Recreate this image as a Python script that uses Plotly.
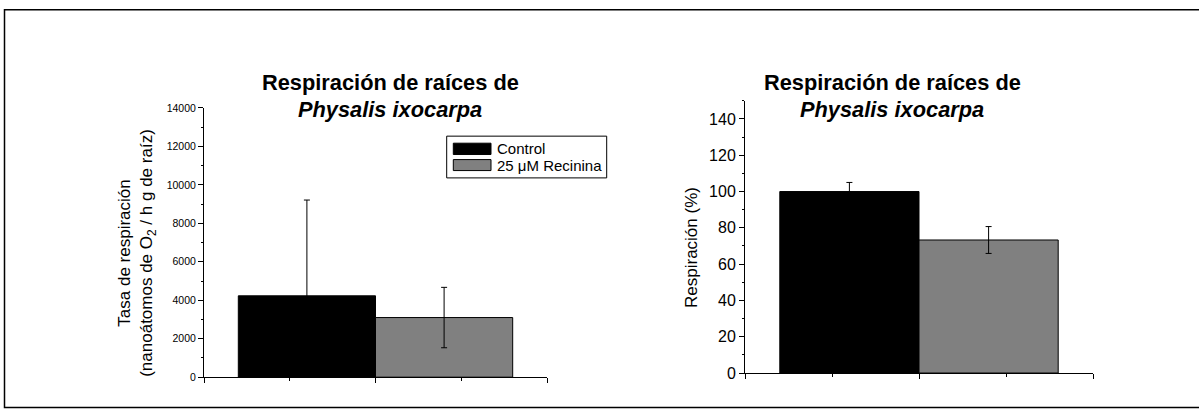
import plotly.graph_objects as go

# ---- data ----
series = ["Control", "25 \u03bcM Recinina"]
group_pos = [0]  # single group on the x axis
rate_values = [4230, 3100]          # nanoátomos O2 / h g raíz
rate_errors = [4980, 1570]
pct_values = [100, 73.3]            # %
pct_errors = [5, 7.4]
colors = ["#000000", "#808080"]
rate_ticks = list(range(0, 14001, 2000))
pct_ticks = list(range(0, 141, 20))

W, H = 1199, 418
FONT = "Liberation Sans, Arial, sans-serif"


def fx(px):
    return px / W


def fy(py):
    return 1 - py / H


fig = go.Figure()

for i, name in enumerate(series):
    fig.add_trace(go.Bar(
        x=group_pos, y=[rate_values[i]], name=name,
        marker=dict(color=colors[i], line=dict(color="black", width=1)),
        error_y=dict(type="data", array=[rate_errors[i]], color="black", thickness=1, width=3),
        xaxis="x", yaxis="y", offsetgroup=str(i), showlegend=False,
    ))
    fig.add_trace(go.Bar(
        x=group_pos, y=[pct_values[i]], name=name,
        marker=dict(color=colors[i], line=dict(color="black", width=1)),
        error_y=dict(type="data", array=[pct_errors[i]], color="black", thickness=1, width=3),
        xaxis="x2", yaxis="y2", offsetgroup=str(i), showlegend=False,
    ))

xcommon = dict(range=[-0.5, 0.5], showline=True, linecolor="black", linewidth=1,
               ticks="outside", ticklen=5, tickcolor="black", tickwidth=1,
               tickvals=[-0.5, 0, 0.5], showticklabels=False, showgrid=False, zeroline=False,
               minor=dict(tickvals=[-0.25, 0.25], ticks="outside", ticklen=3,
                          tickcolor="black", showgrid=False))

fig.update_layout(
    width=W, height=H,
    margin=dict(l=0, r=0, t=0, b=0),
    paper_bgcolor="white", plot_bgcolor="white",
    barmode="group", bargap=0.2, bargroupgap=0,
    font=dict(family=FONT, color="black"),
    xaxis=dict(domain=[fx(204), fx(547)], anchor="y", **xcommon),
    xaxis2=dict(domain=[fx(745), fx(1093)], anchor="y2", **xcommon),
    yaxis=dict(domain=[fy(385), fy(105.7)], anchor="x", range=[0, 14000],
               tickvals=rate_ticks, tickformat="d",
               showline=True, linecolor="black", linewidth=1, showgrid=False, zeroline=False,
               ticks="outside", ticklen=5, tickcolor="black",
               tickfont=dict(size=10.5, family=FONT, color="black"),
               minor=dict(dtick=1000, ticks="outside", ticklen=2, tickcolor="black", showgrid=False)),
    yaxis2=dict(domain=[fy(380.7), fy(98.3)], anchor="x2", range=[0, 150],
                tickvals=pct_ticks, tickformat="d",
                showline=True, linecolor="black", linewidth=1, showgrid=False, zeroline=False,
                ticks="outside", ticklen=5, tickcolor="black",
                tickfont=dict(size=16, family=FONT, color="black"),
                minor=dict(dtick=10, ticks="outside", ticklen=2, tickcolor="black", showgrid=False)),
)

ann = []
shapes = []

# chart titles
for cx in (390, 892):
    ann.append(dict(text="<b>Respiración de raíces de</b>", x=fx(cx), y=fy(79),
                    xref="paper", yref="paper", showarrow=False, xanchor="center", yanchor="middle",
                    font=dict(size=21.8, family=FONT, color="black")))
    ann.append(dict(text="<b><i>Physalis ixocarpa</i></b>", x=fx(cx), y=fy(107),
                    xref="paper", yref="paper", showarrow=False, xanchor="center", yanchor="middle",
                    font=dict(size=21.8, family=FONT, color="black")))

# y-axis titles
ann.append(dict(text="Tasa de respiración<br>(nanoátomos de O<sub>2</sub> / h g de raíz)",
                x=fx(137.5), y=fy(256.5), xref="paper", yref="paper", showarrow=False,
                textangle=-90, xanchor="center", yanchor="middle",
                font=dict(size=17, family=FONT, color="black")))
ann.append(dict(text="Respiración (%)", x=fx(692), y=fy(251), xref="paper", yref="paper",
                showarrow=False, textangle=-90, xanchor="center", yanchor="middle",
                font=dict(size=17, family=FONT, color="black")))

# legend (manual)
shapes.append(dict(type="rect", xref="paper", yref="paper", x0=fx(446.7), x1=fx(606.7),
                   y0=fy(178.3), y1=fy(135), line=dict(color="black", width=1), fillcolor="white"))
sw_rows = [(142.3, 154), (159.3, 170.7)]
for i, (t, b) in enumerate(sw_rows):
    shapes.append(dict(type="rect", xref="paper", yref="paper", x0=fx(453.3), x1=fx(491),
                       y0=fy(b), y1=fy(t), line=dict(color="black", width=1), fillcolor=colors[i]))
    ann.append(dict(text=series[i], x=fx(495), y=fy((t + b) / 2), xref="paper", yref="paper",
                    showarrow=False, xanchor="left", yanchor="middle",
                    font=dict(size=15, family=FONT, color="black")))

# outer frame
shapes.append(dict(type="rect", xref="paper", yref="paper", x0=fx(4.5), x1=fx(1205),
                   y0=fy(416.5), y1=fy(4), line=dict(color="black", width=1.5), layer="below"))

fig.update_layout(annotations=ann, shapes=shapes)
fig.write_html("out.html", config={"displayModeBar": False},
               post_script="document.body.style.margin='0';document.body.style.overflow='hidden';")
